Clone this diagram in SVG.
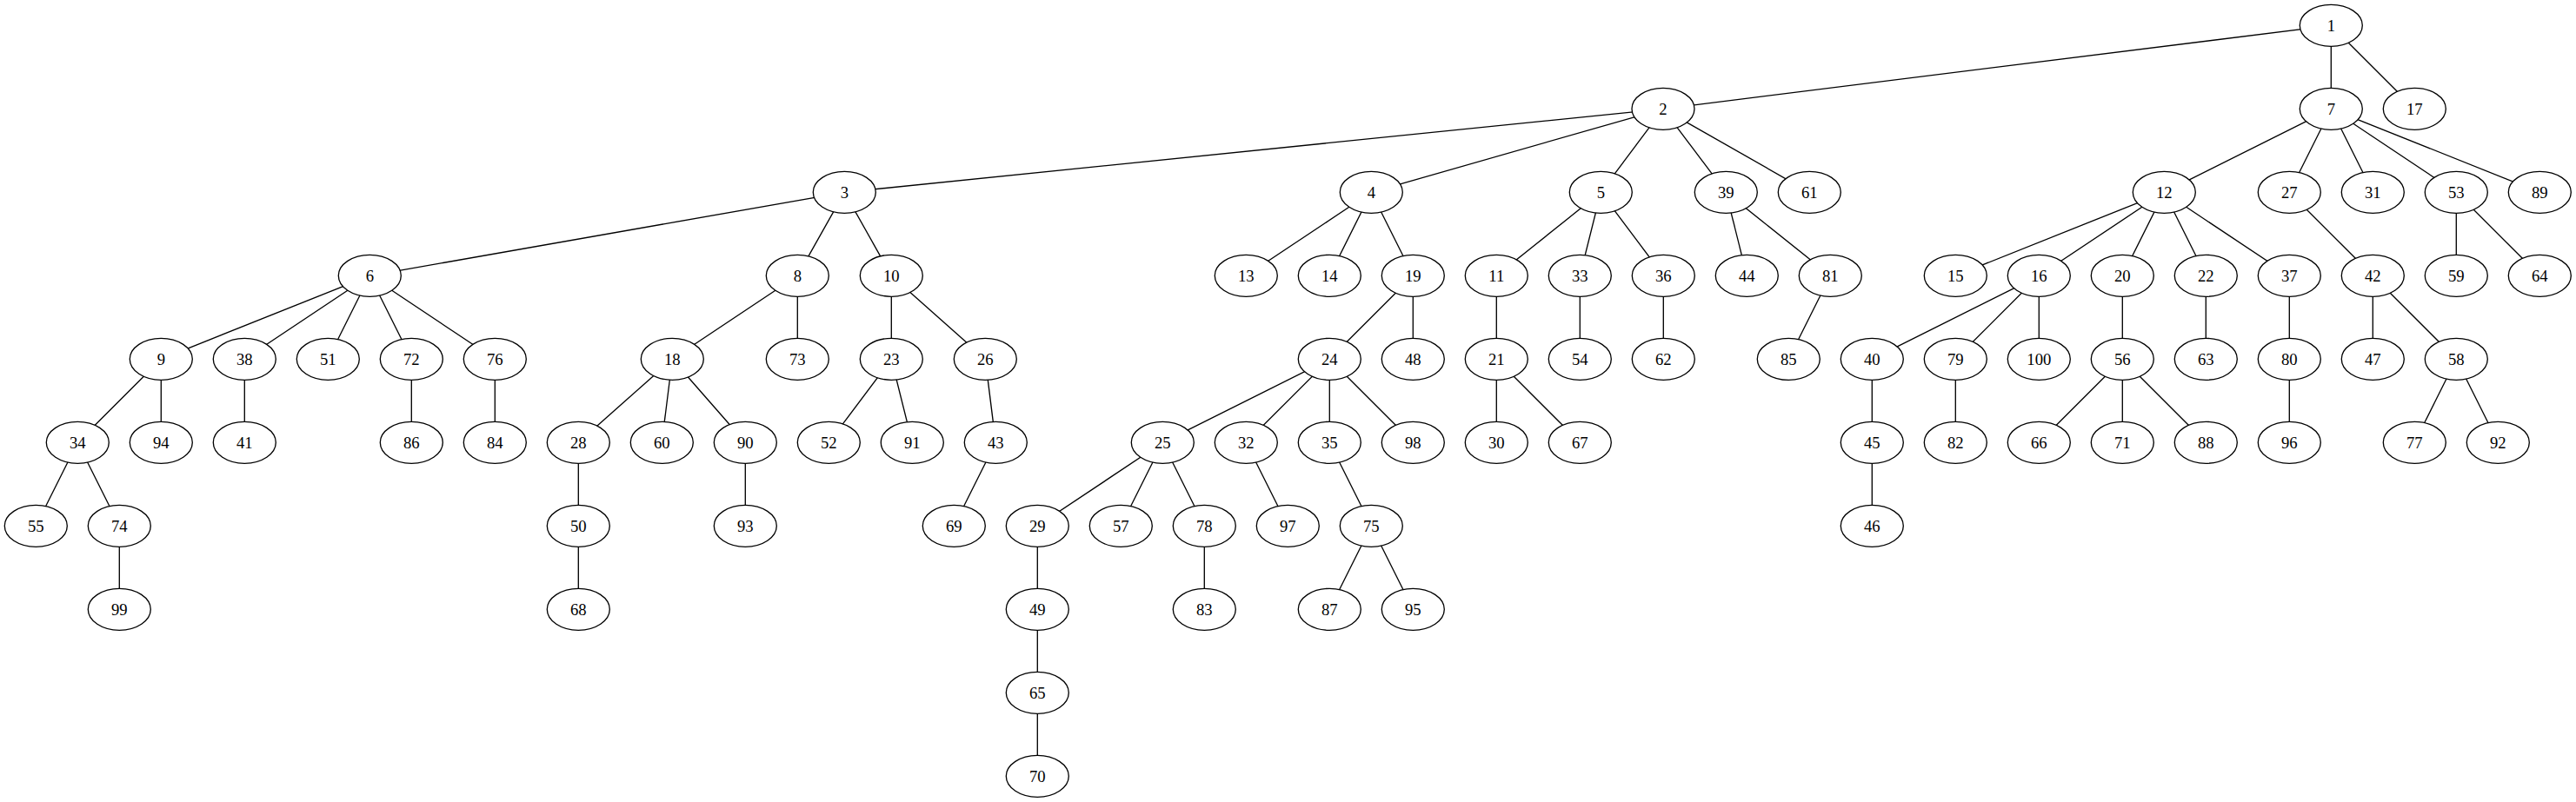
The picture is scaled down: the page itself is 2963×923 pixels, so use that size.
<svg xmlns="http://www.w3.org/2000/svg" width="2963" height="923" viewBox="0 0 2963 923">
<style>
.e line{stroke:#000;stroke-width:1.33;fill:none}
.n ellipse{fill:#fff;stroke:#000;stroke-width:1.33}
.n text{font-family:"Liberation Serif","Times New Roman",serif;font-size:18.67px;text-anchor:middle;fill:#000}
</style>
<rect width="2963" height="923" fill="#fff"/>
<g id="edges" class="e">
<line x1="2681.3" y1="29.3" x2="1913" y2="125.3"/>
<line x1="2681.3" y1="29.3" x2="2681.3" y2="125.3"/>
<line x1="2681.3" y1="29.3" x2="2777.3" y2="125.3"/>
<line x1="1913" y1="125.3" x2="971.3" y2="221.3"/>
<line x1="1913" y1="125.3" x2="1577.3" y2="221.3"/>
<line x1="1913" y1="125.3" x2="1841.3" y2="221.3"/>
<line x1="1913" y1="125.3" x2="1985.3" y2="221.3"/>
<line x1="1913" y1="125.3" x2="2081.3" y2="221.3"/>
<line x1="2681.3" y1="125.3" x2="2489.3" y2="221.3"/>
<line x1="2681.3" y1="125.3" x2="2633.3" y2="221.3"/>
<line x1="2681.3" y1="125.3" x2="2729.3" y2="221.3"/>
<line x1="2681.3" y1="125.3" x2="2825.3" y2="221.3"/>
<line x1="2681.3" y1="125.3" x2="2921.3" y2="221.3"/>
<line x1="971.3" y1="221.3" x2="425.3" y2="317.3"/>
<line x1="971.3" y1="221.3" x2="917.3" y2="317.3"/>
<line x1="971.3" y1="221.3" x2="1025.3" y2="317.3"/>
<line x1="1577.3" y1="221.3" x2="1433.3" y2="317.3"/>
<line x1="1577.3" y1="221.3" x2="1529.3" y2="317.3"/>
<line x1="1577.3" y1="221.3" x2="1625.3" y2="317.3"/>
<line x1="1841.3" y1="221.3" x2="1721.3" y2="317.3"/>
<line x1="1841.3" y1="221.3" x2="1817.3" y2="317.3"/>
<line x1="1841.3" y1="221.3" x2="1913.3" y2="317.3"/>
<line x1="1985.3" y1="221.3" x2="2009.3" y2="317.3"/>
<line x1="1985.3" y1="221.3" x2="2105.3" y2="317.3"/>
<line x1="2489.3" y1="221.3" x2="2249.3" y2="317.3"/>
<line x1="2489.3" y1="221.3" x2="2345.3" y2="317.3"/>
<line x1="2489.3" y1="221.3" x2="2441.3" y2="317.3"/>
<line x1="2489.3" y1="221.3" x2="2537.3" y2="317.3"/>
<line x1="2489.3" y1="221.3" x2="2633.3" y2="317.3"/>
<line x1="2633.3" y1="221.3" x2="2729.3" y2="317.3"/>
<line x1="2825.3" y1="221.3" x2="2825.3" y2="317.3"/>
<line x1="2825.3" y1="221.3" x2="2921.3" y2="317.3"/>
<line x1="425.3" y1="317.3" x2="185.3" y2="413.3"/>
<line x1="425.3" y1="317.3" x2="281.3" y2="413.3"/>
<line x1="425.3" y1="317.3" x2="377.3" y2="413.3"/>
<line x1="425.3" y1="317.3" x2="473.3" y2="413.3"/>
<line x1="425.3" y1="317.3" x2="569.3" y2="413.3"/>
<line x1="917.3" y1="317.3" x2="773.3" y2="413.3"/>
<line x1="917.3" y1="317.3" x2="917.3" y2="413.3"/>
<line x1="1025.3" y1="317.3" x2="1025.3" y2="413.3"/>
<line x1="1025.3" y1="317.3" x2="1133.3" y2="413.3"/>
<line x1="1625.3" y1="317.3" x2="1529.3" y2="413.3"/>
<line x1="1625.3" y1="317.3" x2="1625.3" y2="413.3"/>
<line x1="1721.3" y1="317.3" x2="1721.3" y2="413.3"/>
<line x1="1817.3" y1="317.3" x2="1817.3" y2="413.3"/>
<line x1="1913.3" y1="317.3" x2="1913.3" y2="413.3"/>
<line x1="2105.3" y1="317.3" x2="2057.3" y2="413.3"/>
<line x1="2345.3" y1="317.3" x2="2153.3" y2="413.3"/>
<line x1="2345.3" y1="317.3" x2="2249.3" y2="413.3"/>
<line x1="2345.3" y1="317.3" x2="2345.3" y2="413.3"/>
<line x1="2441.3" y1="317.3" x2="2441.3" y2="413.3"/>
<line x1="2537.3" y1="317.3" x2="2537.3" y2="413.3"/>
<line x1="2633.3" y1="317.3" x2="2633.3" y2="413.3"/>
<line x1="2729.3" y1="317.3" x2="2729.3" y2="413.3"/>
<line x1="2729.3" y1="317.3" x2="2825.3" y2="413.3"/>
<line x1="185.3" y1="413.3" x2="89.3" y2="509.3"/>
<line x1="185.3" y1="413.3" x2="185.3" y2="509.3"/>
<line x1="281.3" y1="413.3" x2="281.3" y2="509.3"/>
<line x1="473.3" y1="413.3" x2="473.3" y2="509.3"/>
<line x1="569.3" y1="413.3" x2="569.3" y2="509.3"/>
<line x1="773.3" y1="413.3" x2="665.3" y2="509.3"/>
<line x1="773.3" y1="413.3" x2="761.3" y2="509.3"/>
<line x1="773.3" y1="413.3" x2="857.3" y2="509.3"/>
<line x1="1025.3" y1="413.3" x2="953.3" y2="509.3"/>
<line x1="1025.3" y1="413.3" x2="1049.3" y2="509.3"/>
<line x1="1133.3" y1="413.3" x2="1145.3" y2="509.3"/>
<line x1="1529.3" y1="413.3" x2="1337.3" y2="509.3"/>
<line x1="1529.3" y1="413.3" x2="1433.3" y2="509.3"/>
<line x1="1529.3" y1="413.3" x2="1529.3" y2="509.3"/>
<line x1="1529.3" y1="413.3" x2="1625.3" y2="509.3"/>
<line x1="1721.3" y1="413.3" x2="1721.3" y2="509.3"/>
<line x1="1721.3" y1="413.3" x2="1817.3" y2="509.3"/>
<line x1="2153.3" y1="413.3" x2="2153.3" y2="509.3"/>
<line x1="2249.3" y1="413.3" x2="2249.3" y2="509.3"/>
<line x1="2441.3" y1="413.3" x2="2345.3" y2="509.3"/>
<line x1="2441.3" y1="413.3" x2="2441.3" y2="509.3"/>
<line x1="2441.3" y1="413.3" x2="2537.3" y2="509.3"/>
<line x1="2633.3" y1="413.3" x2="2633.3" y2="509.3"/>
<line x1="2825.3" y1="413.3" x2="2777.3" y2="509.3"/>
<line x1="2825.3" y1="413.3" x2="2873.3" y2="509.3"/>
<line x1="89.3" y1="509.3" x2="41.3" y2="605.3"/>
<line x1="89.3" y1="509.3" x2="137.3" y2="605.3"/>
<line x1="665.3" y1="509.3" x2="665.3" y2="605.3"/>
<line x1="857.3" y1="509.3" x2="857.3" y2="605.3"/>
<line x1="1145.3" y1="509.3" x2="1097.3" y2="605.3"/>
<line x1="1337.3" y1="509.3" x2="1193.3" y2="605.3"/>
<line x1="1337.3" y1="509.3" x2="1289.3" y2="605.3"/>
<line x1="1337.3" y1="509.3" x2="1385.3" y2="605.3"/>
<line x1="1433.3" y1="509.3" x2="1481.3" y2="605.3"/>
<line x1="1529.3" y1="509.3" x2="1577.3" y2="605.3"/>
<line x1="2153.3" y1="509.3" x2="2153.3" y2="605.3"/>
<line x1="137.3" y1="605.3" x2="137.3" y2="701.3"/>
<line x1="665.3" y1="605.3" x2="665.3" y2="701.3"/>
<line x1="1193.3" y1="605.3" x2="1193.3" y2="701.3"/>
<line x1="1385.3" y1="605.3" x2="1385.3" y2="701.3"/>
<line x1="1577.3" y1="605.3" x2="1529.3" y2="701.3"/>
<line x1="1577.3" y1="605.3" x2="1625.3" y2="701.3"/>
<line x1="1193.3" y1="701.3" x2="1193.3" y2="797.3"/>
<line x1="1193.3" y1="797.3" x2="1193.3" y2="893.3"/>
</g>
<g class="n">
<g id="n1"><ellipse cx="2681.3" cy="29.3" rx="36" ry="24"/><text x="2681.3" y="35.6">1</text></g>
<g id="n2"><ellipse cx="1913" cy="125.3" rx="36" ry="24"/><text x="1913" y="131.6">2</text></g>
<g id="n7"><ellipse cx="2681.3" cy="125.3" rx="36" ry="24"/><text x="2681.3" y="131.6">7</text></g>
<g id="n17"><ellipse cx="2777.3" cy="125.3" rx="36" ry="24"/><text x="2777.3" y="131.6">17</text></g>
<g id="n3"><ellipse cx="971.3" cy="221.3" rx="36" ry="24"/><text x="971.3" y="227.6">3</text></g>
<g id="n4"><ellipse cx="1577.3" cy="221.3" rx="36" ry="24"/><text x="1577.3" y="227.6">4</text></g>
<g id="n5"><ellipse cx="1841.3" cy="221.3" rx="36" ry="24"/><text x="1841.3" y="227.6">5</text></g>
<g id="n39"><ellipse cx="1985.3" cy="221.3" rx="36" ry="24"/><text x="1985.3" y="227.6">39</text></g>
<g id="n61"><ellipse cx="2081.3" cy="221.3" rx="36" ry="24"/><text x="2081.3" y="227.6">61</text></g>
<g id="n12"><ellipse cx="2489.3" cy="221.3" rx="36" ry="24"/><text x="2489.3" y="227.6">12</text></g>
<g id="n27"><ellipse cx="2633.3" cy="221.3" rx="36" ry="24"/><text x="2633.3" y="227.6">27</text></g>
<g id="n31"><ellipse cx="2729.3" cy="221.3" rx="36" ry="24"/><text x="2729.3" y="227.6">31</text></g>
<g id="n53"><ellipse cx="2825.3" cy="221.3" rx="36" ry="24"/><text x="2825.3" y="227.6">53</text></g>
<g id="n89"><ellipse cx="2921.3" cy="221.3" rx="36" ry="24"/><text x="2921.3" y="227.6">89</text></g>
<g id="n6"><ellipse cx="425.3" cy="317.3" rx="36" ry="24"/><text x="425.3" y="323.6">6</text></g>
<g id="n8"><ellipse cx="917.3" cy="317.3" rx="36" ry="24"/><text x="917.3" y="323.6">8</text></g>
<g id="n10"><ellipse cx="1025.3" cy="317.3" rx="36" ry="24"/><text x="1025.3" y="323.6">10</text></g>
<g id="n13"><ellipse cx="1433.3" cy="317.3" rx="36" ry="24"/><text x="1433.3" y="323.6">13</text></g>
<g id="n14"><ellipse cx="1529.3" cy="317.3" rx="36" ry="24"/><text x="1529.3" y="323.6">14</text></g>
<g id="n19"><ellipse cx="1625.3" cy="317.3" rx="36" ry="24"/><text x="1625.3" y="323.6">19</text></g>
<g id="n11"><ellipse cx="1721.3" cy="317.3" rx="36" ry="24"/><text x="1721.3" y="323.6">11</text></g>
<g id="n33"><ellipse cx="1817.3" cy="317.3" rx="36" ry="24"/><text x="1817.3" y="323.6">33</text></g>
<g id="n36"><ellipse cx="1913.3" cy="317.3" rx="36" ry="24"/><text x="1913.3" y="323.6">36</text></g>
<g id="n44"><ellipse cx="2009.3" cy="317.3" rx="36" ry="24"/><text x="2009.3" y="323.6">44</text></g>
<g id="n81"><ellipse cx="2105.3" cy="317.3" rx="36" ry="24"/><text x="2105.3" y="323.6">81</text></g>
<g id="n15"><ellipse cx="2249.3" cy="317.3" rx="36" ry="24"/><text x="2249.3" y="323.6">15</text></g>
<g id="n16"><ellipse cx="2345.3" cy="317.3" rx="36" ry="24"/><text x="2345.3" y="323.6">16</text></g>
<g id="n20"><ellipse cx="2441.3" cy="317.3" rx="36" ry="24"/><text x="2441.3" y="323.6">20</text></g>
<g id="n22"><ellipse cx="2537.3" cy="317.3" rx="36" ry="24"/><text x="2537.3" y="323.6">22</text></g>
<g id="n37"><ellipse cx="2633.3" cy="317.3" rx="36" ry="24"/><text x="2633.3" y="323.6">37</text></g>
<g id="n42"><ellipse cx="2729.3" cy="317.3" rx="36" ry="24"/><text x="2729.3" y="323.6">42</text></g>
<g id="n59"><ellipse cx="2825.3" cy="317.3" rx="36" ry="24"/><text x="2825.3" y="323.6">59</text></g>
<g id="n64"><ellipse cx="2921.3" cy="317.3" rx="36" ry="24"/><text x="2921.3" y="323.6">64</text></g>
<g id="n9"><ellipse cx="185.3" cy="413.3" rx="36" ry="24"/><text x="185.3" y="419.6">9</text></g>
<g id="n38"><ellipse cx="281.3" cy="413.3" rx="36" ry="24"/><text x="281.3" y="419.6">38</text></g>
<g id="n51"><ellipse cx="377.3" cy="413.3" rx="36" ry="24"/><text x="377.3" y="419.6">51</text></g>
<g id="n72"><ellipse cx="473.3" cy="413.3" rx="36" ry="24"/><text x="473.3" y="419.6">72</text></g>
<g id="n76"><ellipse cx="569.3" cy="413.3" rx="36" ry="24"/><text x="569.3" y="419.6">76</text></g>
<g id="n18"><ellipse cx="773.3" cy="413.3" rx="36" ry="24"/><text x="773.3" y="419.6">18</text></g>
<g id="n73"><ellipse cx="917.3" cy="413.3" rx="36" ry="24"/><text x="917.3" y="419.6">73</text></g>
<g id="n23"><ellipse cx="1025.3" cy="413.3" rx="36" ry="24"/><text x="1025.3" y="419.6">23</text></g>
<g id="n26"><ellipse cx="1133.3" cy="413.3" rx="36" ry="24"/><text x="1133.3" y="419.6">26</text></g>
<g id="n24"><ellipse cx="1529.3" cy="413.3" rx="36" ry="24"/><text x="1529.3" y="419.6">24</text></g>
<g id="n48"><ellipse cx="1625.3" cy="413.3" rx="36" ry="24"/><text x="1625.3" y="419.6">48</text></g>
<g id="n21"><ellipse cx="1721.3" cy="413.3" rx="36" ry="24"/><text x="1721.3" y="419.6">21</text></g>
<g id="n54"><ellipse cx="1817.3" cy="413.3" rx="36" ry="24"/><text x="1817.3" y="419.6">54</text></g>
<g id="n62"><ellipse cx="1913.3" cy="413.3" rx="36" ry="24"/><text x="1913.3" y="419.6">62</text></g>
<g id="n85"><ellipse cx="2057.3" cy="413.3" rx="36" ry="24"/><text x="2057.3" y="419.6">85</text></g>
<g id="n40"><ellipse cx="2153.3" cy="413.3" rx="36" ry="24"/><text x="2153.3" y="419.6">40</text></g>
<g id="n79"><ellipse cx="2249.3" cy="413.3" rx="36" ry="24"/><text x="2249.3" y="419.6">79</text></g>
<g id="n100"><ellipse cx="2345.3" cy="413.3" rx="36" ry="24"/><text x="2345.3" y="419.6">100</text></g>
<g id="n56"><ellipse cx="2441.3" cy="413.3" rx="36" ry="24"/><text x="2441.3" y="419.6">56</text></g>
<g id="n63"><ellipse cx="2537.3" cy="413.3" rx="36" ry="24"/><text x="2537.3" y="419.6">63</text></g>
<g id="n80"><ellipse cx="2633.3" cy="413.3" rx="36" ry="24"/><text x="2633.3" y="419.6">80</text></g>
<g id="n47"><ellipse cx="2729.3" cy="413.3" rx="36" ry="24"/><text x="2729.3" y="419.6">47</text></g>
<g id="n58"><ellipse cx="2825.3" cy="413.3" rx="36" ry="24"/><text x="2825.3" y="419.6">58</text></g>
<g id="n34"><ellipse cx="89.3" cy="509.3" rx="36" ry="24"/><text x="89.3" y="515.6">34</text></g>
<g id="n94"><ellipse cx="185.3" cy="509.3" rx="36" ry="24"/><text x="185.3" y="515.6">94</text></g>
<g id="n41"><ellipse cx="281.3" cy="509.3" rx="36" ry="24"/><text x="281.3" y="515.6">41</text></g>
<g id="n86"><ellipse cx="473.3" cy="509.3" rx="36" ry="24"/><text x="473.3" y="515.6">86</text></g>
<g id="n84"><ellipse cx="569.3" cy="509.3" rx="36" ry="24"/><text x="569.3" y="515.6">84</text></g>
<g id="n28"><ellipse cx="665.3" cy="509.3" rx="36" ry="24"/><text x="665.3" y="515.6">28</text></g>
<g id="n60"><ellipse cx="761.3" cy="509.3" rx="36" ry="24"/><text x="761.3" y="515.6">60</text></g>
<g id="n90"><ellipse cx="857.3" cy="509.3" rx="36" ry="24"/><text x="857.3" y="515.6">90</text></g>
<g id="n52"><ellipse cx="953.3" cy="509.3" rx="36" ry="24"/><text x="953.3" y="515.6">52</text></g>
<g id="n91"><ellipse cx="1049.3" cy="509.3" rx="36" ry="24"/><text x="1049.3" y="515.6">91</text></g>
<g id="n43"><ellipse cx="1145.3" cy="509.3" rx="36" ry="24"/><text x="1145.3" y="515.6">43</text></g>
<g id="n25"><ellipse cx="1337.3" cy="509.3" rx="36" ry="24"/><text x="1337.3" y="515.6">25</text></g>
<g id="n32"><ellipse cx="1433.3" cy="509.3" rx="36" ry="24"/><text x="1433.3" y="515.6">32</text></g>
<g id="n35"><ellipse cx="1529.3" cy="509.3" rx="36" ry="24"/><text x="1529.3" y="515.6">35</text></g>
<g id="n98"><ellipse cx="1625.3" cy="509.3" rx="36" ry="24"/><text x="1625.3" y="515.6">98</text></g>
<g id="n30"><ellipse cx="1721.3" cy="509.3" rx="36" ry="24"/><text x="1721.3" y="515.6">30</text></g>
<g id="n67"><ellipse cx="1817.3" cy="509.3" rx="36" ry="24"/><text x="1817.3" y="515.6">67</text></g>
<g id="n45"><ellipse cx="2153.3" cy="509.3" rx="36" ry="24"/><text x="2153.3" y="515.6">45</text></g>
<g id="n82"><ellipse cx="2249.3" cy="509.3" rx="36" ry="24"/><text x="2249.3" y="515.6">82</text></g>
<g id="n66"><ellipse cx="2345.3" cy="509.3" rx="36" ry="24"/><text x="2345.3" y="515.6">66</text></g>
<g id="n71"><ellipse cx="2441.3" cy="509.3" rx="36" ry="24"/><text x="2441.3" y="515.6">71</text></g>
<g id="n88"><ellipse cx="2537.3" cy="509.3" rx="36" ry="24"/><text x="2537.3" y="515.6">88</text></g>
<g id="n96"><ellipse cx="2633.3" cy="509.3" rx="36" ry="24"/><text x="2633.3" y="515.6">96</text></g>
<g id="n77"><ellipse cx="2777.3" cy="509.3" rx="36" ry="24"/><text x="2777.3" y="515.6">77</text></g>
<g id="n92"><ellipse cx="2873.3" cy="509.3" rx="36" ry="24"/><text x="2873.3" y="515.6">92</text></g>
<g id="n55"><ellipse cx="41.3" cy="605.3" rx="36" ry="24"/><text x="41.3" y="611.6">55</text></g>
<g id="n74"><ellipse cx="137.3" cy="605.3" rx="36" ry="24"/><text x="137.3" y="611.6">74</text></g>
<g id="n50"><ellipse cx="665.3" cy="605.3" rx="36" ry="24"/><text x="665.3" y="611.6">50</text></g>
<g id="n93"><ellipse cx="857.3" cy="605.3" rx="36" ry="24"/><text x="857.3" y="611.6">93</text></g>
<g id="n69"><ellipse cx="1097.3" cy="605.3" rx="36" ry="24"/><text x="1097.3" y="611.6">69</text></g>
<g id="n29"><ellipse cx="1193.3" cy="605.3" rx="36" ry="24"/><text x="1193.3" y="611.6">29</text></g>
<g id="n57"><ellipse cx="1289.3" cy="605.3" rx="36" ry="24"/><text x="1289.3" y="611.6">57</text></g>
<g id="n78"><ellipse cx="1385.3" cy="605.3" rx="36" ry="24"/><text x="1385.3" y="611.6">78</text></g>
<g id="n97"><ellipse cx="1481.3" cy="605.3" rx="36" ry="24"/><text x="1481.3" y="611.6">97</text></g>
<g id="n75"><ellipse cx="1577.3" cy="605.3" rx="36" ry="24"/><text x="1577.3" y="611.6">75</text></g>
<g id="n46"><ellipse cx="2153.3" cy="605.3" rx="36" ry="24"/><text x="2153.3" y="611.6">46</text></g>
<g id="n99"><ellipse cx="137.3" cy="701.3" rx="36" ry="24"/><text x="137.3" y="707.6">99</text></g>
<g id="n68"><ellipse cx="665.3" cy="701.3" rx="36" ry="24"/><text x="665.3" y="707.6">68</text></g>
<g id="n49"><ellipse cx="1193.3" cy="701.3" rx="36" ry="24"/><text x="1193.3" y="707.6">49</text></g>
<g id="n83"><ellipse cx="1385.3" cy="701.3" rx="36" ry="24"/><text x="1385.3" y="707.6">83</text></g>
<g id="n87"><ellipse cx="1529.3" cy="701.3" rx="36" ry="24"/><text x="1529.3" y="707.6">87</text></g>
<g id="n95"><ellipse cx="1625.3" cy="701.3" rx="36" ry="24"/><text x="1625.3" y="707.6">95</text></g>
<g id="n65"><ellipse cx="1193.3" cy="797.3" rx="36" ry="24"/><text x="1193.3" y="803.6">65</text></g>
<g id="n70"><ellipse cx="1193.3" cy="893.3" rx="36" ry="24"/><text x="1193.3" y="899.6">70</text></g>
</g>
</svg>
